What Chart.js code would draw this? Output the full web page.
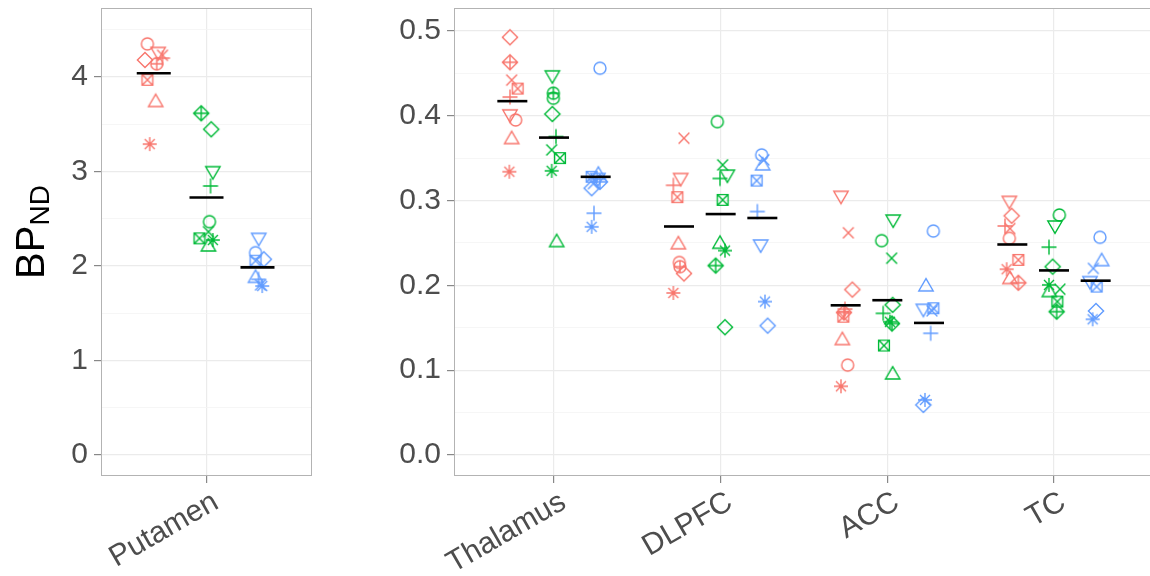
<!DOCTYPE html>
<html>
<head>
<style>
  body { margin: 0; width: 1150px; height: 576px; overflow: hidden; background: #fff; position: relative; }
  #left { position: absolute; left: 0; top: 0; }
  #right { position: absolute; left: 340px; top: 0; }
</style>
</head>
<body>
<script src="https://cdn.jsdelivr.net/npm/chart.js"></script>
<canvas id="left" width="330" height="576"></canvas>
<canvas id="right" width="820" height="576"></canvas>
<script>
// regions (Putamen sits in its own panel) and one shape per subject
const regions = ['Putamen', 'Thalamus', 'DLPFC', 'ACC', 'TC'];
const subjectShapes = ['circle', 'triangle', 'plus', 'x', 'diamond', 'triDown', 'squareX', 'asterisk', 'diamondPlus', 'circlePlus'];

// BPND per region (rows) and subject (columns, same order as subjectShapes)
const redValues = [
    [4.35, 3.74, 4.20, 4.23, 4.18, 4.26, 3.97, 3.29, null, 4.14],
    [0.395, 0.373, 0.422, 0.442, 0.4925, 0.401, 0.432, 0.334, 0.463, null],
    [0.227, 0.249, 0.318, 0.3735, 0.214, 0.326, 0.304, 0.191, null, 0.222],
    [0.106, 0.136, 0.172, 0.262, 0.195, 0.305, 0.163, 0.081, 0.168, null],
    [0.2555, 0.208, 0.270, 0.267, 0.282, 0.299, 0.230, 0.219, 0.203, null]
];
const greenValues = [
    [2.469, 2.212, 2.847, 2.363, 3.447, 2.998, 2.293, 2.275, 3.616, null],
    [0.4206, 0.2516, 0.3754, 0.3597, 0.402, 0.447, 0.350, 0.335, null, 0.4265],
    [0.393, 0.2496, 0.326, 0.342, 0.1506, 0.330, 0.3007, 0.241, 0.2233, null],
    [0.2527, 0.0955, 0.167, 0.232, 0.177, 0.277, 0.129, 0.157, 0.155, null],
    [0.283, 0.1926, 0.245, 0.1954, 0.222, 0.270, 0.1808, 0.2005, 0.169, null]
];
const blueValues = [
    [2.141, 1.880, 1.859, 1.80, 2.071, 2.293, 2.056, 1.788, null, null],
    [0.456, 0.331, 0.285, 0.320, 0.3145, 0.326, 0.328, 0.269, 0.322, null],
    [0.3538, 0.342, 0.287, 0.348, 0.1525, 0.2476, 0.3235, 0.1808, null, null],
    [0.264, 0.1993, 0.1435, 0.170, 0.059, 0.1718, 0.173, 0.0649, null, null],
    [0.2567, 0.2291, null, 0.220, 0.1698, 0.2044, 0.1985, 0.160, null, null]
];

// horizontal jitter of each point, in category units
const redJitter = [
    [-0.036, 0.011, 0.05, 0.05, -0.05, 0.025, -0.036, -0.023, 0, 0.017],
    [0.02, -0.004, -0.014, -0.004, -0.014, -0.014, 0.032, -0.018, -0.014, 0],
    [0.002, -0.004, -0.034, 0.03, 0.03, 0.01, -0.01, -0.034, 0, 0.006],
    [0.012, -0.02, -0.004, 0.016, 0.04, -0.028, -0.014, -0.028, -0.01, 0],
    [-0.018, -0.014, -0.044, -0.014, -0.004, -0.018, 0.036, -0.034, 0.036, 0]
];
const greenJitter = [
    [0.017, 0.011, 0.023, 0.011, 0.027, 0.036, -0.04, 0.036, -0.03, 0],
    [-0.004, 0.016, 0.012, -0.014, -0.01, -0.01, 0.036, -0.014, 0, -0.004],
    [-0.02, -0.004, -0.004, 0.012, 0.026, 0.04, 0.012, 0.026, -0.03, 0],
    [-0.034, 0.032, -0.025, 0.026, 0.032, 0.035, -0.02, 0.016, 0.028, 0],
    [0.032, -0.028, -0.03, 0.036, -0.008, 0.006, 0.02, -0.03, 0.016, 0]
];
const blueJitter = [
    [-0.011, -0.011, 0.006, 0.017, 0.036, 0.007, -0.011, 0.027, 0, 0],
    [0.026, 0.016, -0.01, -0.014, -0.024, 0.014, -0.024, -0.024, 0.026, 0],
    [-0.004, 0.002, -0.03, 0.01, 0.032, -0.01, -0.034, 0.016, 0, 0],
    [0.026, -0.018, 0.01, 0.018, -0.034, -0.034, 0.026, -0.024, 0, 0],
    [0.026, 0.036, 0, -0.014, 0.002, -0.034, 0.006, -0.018, 0, 0]
];

// tick values
const leftMajor = [0, 1, 2, 3, 4];
const leftMinor = [0.5, 1.5, 2.5, 3.5, 4.5];
const rightMajor = [0, 0.1, 0.2, 0.3, 0.4, 0.5];
const rightMinor = [0.05, 0.15, 0.25, 0.35, 0.45];

const groupColors = ['#F8766D', '#00BA38', '#619CFF'];
const groupValues = [redValues, greenValues, blueValues];
const groupJitter = [redJitter, greenJitter, blueJitter];

const fontFamily = "'Liberation Sans', Arial, sans-serif";
Chart.defaults.font.family = fontFamily;

// draw ggplot-like open symbols on small canvases
function makeShape(name, color) {
    const s = 22;
    const c = document.createElement('canvas');
    c.width = s; c.height = s;
    const g = c.getContext('2d');
    g.strokeStyle = color;
    g.lineWidth = 1.4;
    g.translate(s / 2, s / 2);
    g.beginPath();
    if (name == 'circle' || name == 'circlePlus') {
        g.arc(0, 0, 6, 0, 2 * Math.PI);
        if (name == 'circlePlus') { g.moveTo(-6, 0); g.lineTo(6, 0); g.moveTo(0, -6); g.lineTo(0, 6); }
    } else if (name == 'triangle') {
        g.moveTo(0, -7.3); g.lineTo(7.2, 5); g.lineTo(-7.2, 5); g.closePath();
    } else if (name == 'triDown') {
        g.moveTo(0, 7.3); g.lineTo(7.2, -5); g.lineTo(-7.2, -5); g.closePath();
    } else if (name == 'plus') {
        g.moveTo(-7.5, 0); g.lineTo(7.5, 0); g.moveTo(0, -7.5); g.lineTo(0, 7.5);
    } else if (name == 'x') {
        g.moveTo(-5.4, -5.4); g.lineTo(5.4, 5.4); g.moveTo(-5.4, 5.4); g.lineTo(5.4, -5.4);
    } else if (name == 'diamond' || name == 'diamondPlus') {
        g.moveTo(0, -7.6); g.lineTo(7.6, 0); g.lineTo(0, 7.6); g.lineTo(-7.6, 0); g.closePath();
        if (name == 'diamondPlus') { g.moveTo(-7.6, 0); g.lineTo(7.6, 0); g.moveTo(0, -7.6); g.lineTo(0, 7.6); }
    } else if (name == 'squareX') {
        g.rect(-5.4, -5.4, 10.8, 10.8);
        g.moveTo(-5.4, -5.4); g.lineTo(5.4, 5.4); g.moveTo(-5.4, 5.4); g.lineTo(5.4, -5.4);
    } else if (name == 'asterisk') {
        g.moveTo(-7, 0); g.lineTo(7, 0); g.moveTo(0, -7); g.lineTo(0, 7);
        g.moveTo(-5, -5); g.lineTo(5, 5); g.moveTo(-5, 5); g.lineTo(5, -5);
    }
    g.stroke();
    return c;
}

const shapeImages = groupColors.map(col => {
    const m = {};
    subjectShapes.forEach(n => { m[n] = makeShape(n, col); });
    return m;
});

function makeDatasets(regionRows, dodge, meanHalf) {
    const sets = [];
    const means = [];
    for (let g = 0; g < 3; g++) {
        const pts = [];
        const styles = [];
        regionRows.forEach((r, k) => {
            const pos = k + 1 + dodge[g];
            let sum = 0, n = 0;
            groupValues[g][r].forEach((v, s) => {
                if (v === null) return;
                pts.push({ x: pos + groupJitter[g][r][s], y: v });
                styles.push(shapeImages[g][subjectShapes[s]]);
                sum += v; n++;
            });
            means.push({ x: pos, y: sum / n });
        });
        sets.push({ data: pts, pointStyle: styles, pointRadius: 6, order: 1 });
    }
    sets.push({
        data: means, pointStyle: 'line', pointRadius: meanHalf,
        pointBorderColor: '#000', borderColor: '#000', pointBorderWidth: 2.6, order: 0
    });
    return sets;
}

const panelBorder = {
    id: 'panelBorder',
    afterDraw(chart) {
        const a = chart.chartArea;
        const ctx = chart.ctx;
        ctx.save();
        ctx.strokeStyle = '#B3B3B3';
        ctx.lineWidth = 1;
        ctx.strokeRect(a.left + 0.5, a.top + 0.5, a.right - a.left - 1, a.bottom - a.top - 1);
        ctx.restore();
    }
};

// rotated category labels, anchored at their top-right corner like ggplot's hjust = vjust = 1
function xLabels(names) {
    return {
        id: 'xLabels',
        afterDraw(chart) {
            const xs = chart.scales.x;
            const ctx = chart.ctx;
            names.forEach((n, i) => {
                ctx.save();
                ctx.translate(xs.getPixelForValue(i + 1) + 2, xs.top + 11);
                ctx.rotate(-Math.PI / 6);
                ctx.font = '30px ' + fontFamily;
                ctx.fillStyle = '#4D4D4D';
                ctx.textAlign = 'right';
                ctx.textBaseline = 'top';
                ctx.fillText(n, 0, 0);
                ctx.restore();
            });
        }
    };
}

const yTitle = {
    id: 'yTitle',
    afterDraw(chart) {
        const ctx = chart.ctx;
        const a = chart.chartArea;
        ctx.save();
        ctx.translate(44, (a.top + a.bottom) / 2 - 10);
        ctx.rotate(-Math.PI / 2);
        ctx.fillStyle = '#000';
        ctx.textBaseline = 'alphabetic';
        ctx.textAlign = 'left';
        ctx.font = '40px ' + fontFamily;
        const wb = ctx.measureText('BP').width;
        ctx.font = '28px ' + fontFamily;
        const wn = ctx.measureText('ND').width;
        const x0 = -(wb + wn) / 2;
        ctx.font = '40px ' + fontFamily;
        ctx.fillText('BP', x0, 0);
        ctx.font = '28px ' + fontFamily;
        ctx.fillText('ND', x0 + wb, 5);
        ctx.restore();
    }
};

function panelOptions(names, yMin, yMax, major, minor, yWidth, padRight, digits) {
    const isMajor = v => major.some(m => Math.abs(m - v) < 1e-9);
    return {
        responsive: false,
        animation: false,
        devicePixelRatio: 1,
        events: [],
        layout: { autoPadding: false, padding: { top: 8, right: padRight, left: 0, bottom: 0 } },
        plugins: { legend: { display: false }, tooltip: { enabled: false } },
        scales: {
            x: {
                type: 'linear',
                min: 0.4,
                max: names.length + 0.6,
                afterBuildTicks: s => { s.ticks = names.map((n, i) => ({ value: i + 1 })); },
                afterFit: s => { s.height = 100; s.paddingLeft = 0; s.paddingRight = 0; },
                border: { display: false },
                grid: { color: '#EBEBEB', lineWidth: 1.2, tickColor: '#888', tickLength: 7, tickWidth: 1.2 },
                ticks: { autoSkip: false, maxRotation: 0, font: { size: 10 }, callback: () => '' }
            },
            y: {
                min: yMin,
                max: yMax,
                afterBuildTicks: s => { s.ticks = major.concat(minor).sort((a, b) => a - b).map(v => ({ value: v })); },
                afterFit: s => { s.width = yWidth; s.paddingTop = 0; s.paddingBottom = 0; },
                border: { display: false },
                grid: {
                    color: c => (c.tick && isMajor(c.tick.value)) ? '#EBEBEB' : '#F4F4F4',
                    lineWidth: c => (c.tick && isMajor(c.tick.value)) ? 1.2 : 0.8,
                    tickColor: c => (c.tick && isMajor(c.tick.value)) ? '#888' : 'rgba(0,0,0,0)',
                    tickLength: 7,
                    tickWidth: 1.2
                },
                ticks: {
                    autoSkip: false, padding: 6, color: '#4D4D4D', font: { size: 30 },
                    callback: v => isMajor(v) ? v.toFixed(digits) : ''
                }
            }
        }
    };
}

new Chart(document.getElementById('left'), {
    type: 'scatter',
    data: { datasets: makeDatasets([0], [-0.3, 0, 0.29], 17) },
    options: panelOptions([regions[0]], -0.222, 4.73, leftMajor, leftMinor, 101, 18, 0),
    plugins: [panelBorder, yTitle, xLabels([regions[0]])]
});

new Chart(document.getElementById('right'), {
    type: 'scatter',
    data: { datasets: makeDatasets([1, 2, 3, 4], [-0.25, 0, 0.25], 15) },
    options: panelOptions(regions.slice(1), -0.0248, 0.527, rightMajor, rightMinor, 114, 6, 1),
    plugins: [panelBorder, xLabels(regions.slice(1))]
});
</script>
</body>
</html>
